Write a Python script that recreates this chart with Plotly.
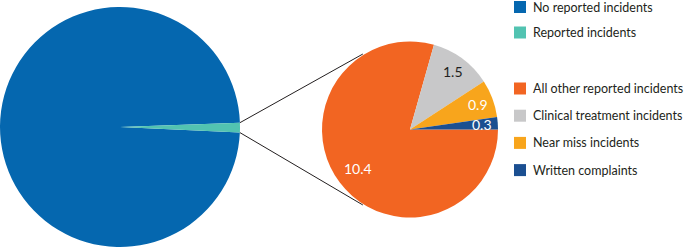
import math
import plotly.graph_objects as go

W, H = 685, 247

# ---- data ----
overview_labels = ["No reported incidents", "Reported incidents"]
overview_values = [98.69, 1.31]
overview_colors = ["#0567AF", "#52C3B1"]

detail_labels = ["All other reported incidents", "Clinical treatment incidents",
                 "Near miss incidents", "Written complaints"]
detail_values = [10.4, 1.5, 0.9, 0.3]
detail_colors = ["#F26522", "#C8C8C9", "#F8A51C", "#1B4F91"]
detail_text_colors = ["white", "#231F20", "white", "white"]

# ---- geometry (pixels) ----
big_cx, big_cy, big_r = 120, 127, 120
small_cx, small_cy, small_r = 410, 129.5, 88
connector_angle = 122  # degrees on small pie
FONT = "Lato"


def px(x):
    return x / W


def py(y):
    return 1 - y / H


fig = go.Figure()

# big pie: clockwise, teal slice centred at 3 o'clock
teal_frac = overview_values[1] / sum(overview_values)
teal_deg = 360 * teal_frac
big_rot = 90 + teal_deg / 2 + 0.3
fig.add_trace(go.Pie(
    labels=overview_labels, values=overview_values, sort=False,
    direction="clockwise", rotation=big_rot,
    marker=dict(colors=overview_colors, line=dict(width=0)),
    textinfo="none", hoverinfo="label+value", showlegend=False,
    domain=dict(x=[px(big_cx - big_r), px(big_cx + big_r)],
                y=[py(big_cy + big_r), py(big_cy - big_r)]),
))

fig.add_trace(go.Pie(
    labels=detail_labels, values=detail_values, sort=False,
    direction="clockwise", rotation=90,
    marker=dict(colors=detail_colors, line=dict(width=0)),
    textinfo="none", hoverinfo="label+value", showlegend=False,
    domain=dict(x=[px(small_cx - small_r), px(small_cx + small_r)],
                y=[py(small_cy + small_r), py(small_cy - small_r)]),
))

shapes = []
annotations = []

# connector lines from teal slice edges to small pie
teal_start = 90 - big_rot + teal_deg  # math angle of upper edge
teal_end = 90 - big_rot                # lower edge
for a_big, a_small in [(teal_start, connector_angle), (teal_end, -connector_angle)]:
    x0 = big_cx + big_r * math.cos(math.radians(a_big))
    y0 = big_cy - big_r * math.sin(math.radians(a_big))
    x1 = small_cx + (small_r + 1) * math.cos(math.radians(a_small))
    y1 = small_cy - (small_r + 1) * math.sin(math.radians(a_small))
    shapes.append(dict(type="line", xref="paper", yref="paper",
                       x0=px(x0), y0=py(y0), x1=px(x1), y1=py(y1),
                       line=dict(color="#231F20", width=1)))

# slice value labels, placed along each slice bisector (clockwise from 3 o'clock)
total = sum(detail_values)
acc = 0
for v, c in zip(detail_values, detail_text_colors):
    mid = -(acc + v / 2) / total * 360
    acc += v
    rr = 0.74 if v / total > 0.5 else 0.82
    x = small_cx + rr * small_r * math.cos(math.radians(mid))
    y = small_cy - rr * small_r * math.sin(math.radians(mid))
    annotations.append(dict(x=px(x), y=py(y), xref="paper", yref="paper",
                            xanchor="center", yanchor="middle",
                            text=f"{v}", showarrow=False,
                            font=dict(size=14, color=c, family=FONT)))

# manual legends
leg_x = 514
sq = 12
legend_rows = [(overview_labels, overview_colors, 7, 25.5),
               (detail_labels, detail_colors, 88.5, 27.2)]
for labels, colors, y_start, step in legend_rows:
    for i, (lab, col) in enumerate(zip(labels, colors)):
        yc = y_start + i * step
        shapes.append(dict(type="rect", xref="paper", yref="paper",
                           x0=px(leg_x), x1=px(leg_x + sq),
                           y0=py(yc + sq / 2), y1=py(yc - sq / 2),
                           fillcolor=col, line=dict(width=0)))
        annotations.append(dict(x=px(leg_x + sq + 5), y=py(yc), xref="paper", yref="paper",
                                text=lab, showarrow=False, xanchor="left", yanchor="middle",
                                font=dict(size=12.5, color="#231F20", family=FONT)))

fig.update_layout(
    width=W, height=H, autosize=False,
    margin=dict(l=0, r=0, t=0, b=0),
    paper_bgcolor="white", plot_bgcolor="white",
    shapes=shapes, annotations=annotations,
)

fig.write_html("out.html")
